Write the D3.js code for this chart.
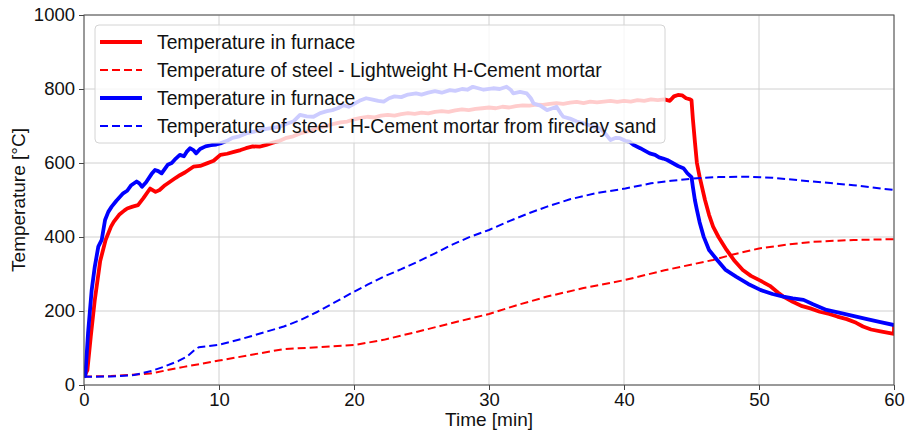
<!DOCTYPE html>
<html>
<head>
<meta charset="utf-8">
<script src="https://cdn.jsdelivr.net/npm/d3@7/dist/d3.min.js"></script>
<style>
  html, body { margin: 0; padding: 0; background: #fff; }
  svg { display: block; font-family: "Liberation Sans", Arial, sans-serif; }
</style>
</head>
<body>
<svg id="chart" width="912" height="437"></svg>
<script>
// Time axis ticks and temperature axis ticks
const xTicks = [0, 10, 20, 30, 40, 50, 60];
const yTicks = [0, 200, 400, 600, 800, 1000];

// Furnace temperature, lightweight H-Cement mortar test (time [min], temperature [°C])
const furnaceRedTime = [0, 0.25, 0.5, 0.8, 1.2, 1.6, 2.0, 2.2, 2.6, 3.0, 3.2, 3.6, 4.0, 4.4, 4.9, 5.3, 5.6, 6.0, 6.4, 6.8, 7.1, 7.5, 8.1, 8.6, 9.1, 9.6, 10.1, 10.6, 11.1, 11.6, 12.0, 12.5, 13.0, 13.5, 14, 14.5, 15, 15.5, 16, 16.5, 17, 17.5, 18, 18.5, 19, 19.5, 20, 20.5, 21, 21.5, 22, 22.5, 23, 23.5, 24, 24.5, 25, 25.5, 26, 26.5, 27, 27.5, 28, 28.5, 29, 29.5, 30, 30.5, 31, 31.5, 32, 32.5, 33, 33.5, 34, 34.5, 35, 35.5, 36, 36.5, 37, 37.5, 38, 38.5, 39, 39.5, 40, 40.5, 41, 41.5, 42, 42.5, 43, 43.4, 43.7, 44.0, 44.3, 44.6, 44.9, 45.0, 45.1, 45.26, 45.4, 45.6, 46.0, 46.3, 46.6, 47.0, 47.6, 48.2, 48.8, 49.4, 50.1, 50.8, 51.4, 51.8, 52.5, 53.2, 53.8, 54.5, 55.2, 55.8, 56.5, 57.2, 57.7, 58.3, 59.0, 59.7, 60.0, 60.0];
const furnaceRedTemp = [22, 40, 130, 230, 335, 392, 428, 441, 460, 472, 477, 482, 486, 505, 531, 522, 527, 540, 550, 560, 567, 575, 590, 592, 599, 606, 622, 625, 630, 635, 640, 645, 644, 649, 655, 660, 668, 672, 680, 685, 690, 697, 700, 706, 710, 712, 718, 722, 725, 723, 728, 730, 728, 732, 735, 733, 736, 734, 738, 740, 738, 742, 745, 743, 746, 748, 750, 748, 752, 750, 754, 756, 755, 758, 757, 760, 762, 760, 763, 765, 762, 766, 764, 766, 768, 765, 768, 766, 770, 768, 772, 770, 772, 768, 780, 784, 783, 775, 772, 770, 720, 654, 600, 563, 500, 460, 428, 400, 365, 335, 311, 295, 282, 268, 250, 239, 225, 213, 207, 198, 192, 185, 178, 168, 158, 150, 145, 140, 138, 163];

// Steel temperature, lightweight H-Cement mortar
const steelRedTime = [0, 2, 4.9, 7.4, 10, 12.3, 14.8, 17.3, 20, 22.2, 24.7, 27.2, 30, 32, 34.3, 37, 40.1, 43, 46.6, 48, 50, 52, 54, 57, 60];
const steelRedTemp = [23, 24, 31, 49, 66, 81, 97, 102, 108, 122, 144, 167, 192, 215, 239, 262, 284, 310, 338, 352, 369, 379, 387, 392, 394];

// Furnace temperature, H-Cement mortar from fireclay sand test
const furnaceBlueTime = [0, 0.1, 0.3, 0.57, 0.8, 1.06, 1.31, 1.56, 1.8, 2.05, 2.4, 2.9, 3.2, 3.5, 3.9, 4.1, 4.3, 4.6, 5.0, 5.26, 5.5, 5.75, 6.0, 6.2, 6.5, 6.8, 7.1, 7.4, 7.6, 7.85, 8.1, 8.3, 8.6, 9.0, 9.4, 9.8, 10.1, 10.6, 11.0, 11.5, 12.0, 12.5, 13, 13.5, 14, 14.5, 15, 15.5, 16, 16.5, 17, 17.5, 18, 18.4, 18.8, 19.2, 19.6, 20, 20.4, 20.9, 21.3, 21.8, 22.2, 22.6, 23, 23.5, 24, 24.6, 25, 25.5, 26, 26.5, 27.1, 27.5, 28, 28.4, 28.8, 29.2, 29.6, 30.3, 30.8, 31.3, 31.6, 31.8, 32.3, 32.8, 33.1, 33.3, 33.8, 34.3, 34.7, 35.0, 35.3, 35.5, 36.0, 36.5, 37.0, 37.6, 38.2, 38.6, 39.0, 39.4, 39.7, 40.1, 40.4, 40.7, 41.2, 41.6, 41.9, 42.3, 42.6, 42.9, 43.2, 43.6, 44.0, 44.4, 44.7, 45.0, 45.1, 45.25, 45.4, 45.6, 45.9, 46.3, 46.9, 47.5, 48.3, 49.2, 50.1, 51.0, 51.8, 52.5, 53.3, 54.0, 55.0, 56.0, 57.2, 58.0, 59.0, 60.0];
const furnaceBlueTemp = [22, 25, 140, 257, 320, 374, 392, 446, 468, 482, 498, 518, 525, 540, 550, 545, 536, 548, 570, 581, 578, 572, 585, 595, 600, 612, 622, 618, 630, 640, 635, 626, 638, 645, 648, 650, 653, 660, 668, 672, 680, 684, 688, 692, 695, 698, 706, 712, 730, 726, 725, 735, 740, 743, 748, 756, 752, 760, 768, 775, 772, 768, 766, 775, 780, 778, 785, 788, 785, 790, 794, 790, 797, 795, 800, 798, 806, 802, 798, 802, 800, 806, 798, 788, 792, 788, 775, 761, 755, 743, 748, 752, 735, 725, 720, 712, 707, 700, 694, 680, 662, 668, 667, 660, 658, 649, 640, 632, 626, 622, 615, 612, 608, 600, 592, 586, 572, 562, 536, 500, 473, 440, 401, 365, 338, 312, 293, 273, 257, 246, 239, 234, 230, 218, 203, 195, 185, 178, 170, 162];

// Steel temperature, H-Cement mortar from fireclay sand
const steelBlueTime = [0, 2, 3.7, 5, 5.9, 7.0, 7.65, 8.2, 8.5, 9.9, 11, 12.3, 13.5, 14.8, 16, 17.3, 18.6, 20, 21, 22.2, 23.5, 24.7, 26, 27.2, 28.5, 30, 31.5, 33, 34.3, 36, 38, 40.1, 42, 43.5, 45.1, 47, 49.1, 51, 54, 57, 60];
const steelBlueTemp = [22, 23, 27, 38, 49, 65, 77, 95, 102, 108, 118, 131, 144, 158, 175, 198, 224, 252, 271, 293, 313, 333, 356, 378, 399, 419, 443, 465, 482, 502, 519, 531, 545, 552, 558, 562, 563, 560, 550, 540, 527];

const legendLabels = [
  "Temperature in furnace",
  "Temperature of steel - Lightweight H-Cement mortar",
  "Temperature in furnace",
  "Temperature of steel - H-Cement mortar from fireclay sand"
];

const zip = (ts, vs) => ts.map((t, i) => [t, vs[i]]);
const seriesList = [
  { pts: zip(furnaceRedTime, furnaceRedTemp), color: "#ff0000", width: 3.8, dash: null },
  { pts: zip(steelRedTime, steelRedTemp), color: "#ff0000", width: 2, dash: "8,4" },
  { pts: zip(furnaceBlueTime, furnaceBlueTemp), color: "#0000ff", width: 3.8, dash: null },
  { pts: zip(steelBlueTime, steelBlueTemp), color: "#0000ff", width: 2, dash: "8,4" }
];

const svg = d3.select("#chart");
const margin = { left: 84, top: 15, right: 18, bottom: 52 };
const W = 912 - margin.left - margin.right;
const H = 437 - margin.top - margin.bottom;

const x = d3.scaleLinear().domain([0, 60]).range([0, W]);
const y = d3.scaleLinear().domain([0, 1000]).range([H, 0]);

const g = svg.append("g").attr("transform", `translate(${margin.left},${margin.top})`);

// grid
g.append("g").selectAll("line.vg").data(xTicks).join("line")
  .attr("x1", d => x(d)).attr("x2", d => x(d)).attr("y1", 0).attr("y2", H)
  .attr("stroke", "#d0d0d0").attr("stroke-width", 1);
g.append("g").selectAll("line.hg").data(yTicks).join("line")
  .attr("y1", d => y(d)).attr("y2", d => y(d)).attr("x1", 0).attr("x2", W)
  .attr("stroke", "#d0d0d0").attr("stroke-width", 1);

// series
svg.append("defs").append("clipPath").attr("id", "plotclip")
  .append("rect").attr("x", 0).attr("y", 0).attr("width", W).attr("height", H);
const lineGen = d3.line().x(d => x(d[0])).y(d => y(d[1]));
const lines = g.append("g").attr("clip-path", "url(#plotclip)");
seriesList.forEach(s => {
  lines.append("path")
    .datum(s.pts)
    .attr("d", lineGen)
    .attr("fill", "none")
    .attr("stroke", s.color)
    .attr("stroke-width", s.width)
    .attr("stroke-linejoin", "round")
    .attr("stroke-dasharray", s.dash);
});

// axes
const fontSize = "18.5px";
const xAxis = g.append("g").attr("transform", `translate(0,${H})`)
  .call(d3.axisBottom(x).tickValues(xTicks).tickSize(5).tickPadding(3).tickFormat(d3.format("d")));
const yAxis = g.append("g")
  .call(d3.axisLeft(y).tickValues(yTicks).tickSize(5).tickPadding(4).tickFormat(d3.format("d")));
[xAxis, yAxis].forEach(a => {
  a.select(".domain").remove();
  a.selectAll(".tick line").attr("stroke", "#444");
  a.selectAll(".tick text").attr("fill", "#111").style("font-size", fontSize)
    .style("font-family", "'Liberation Sans', Arial, sans-serif");
});

// frame
g.append("rect").attr("x", 0).attr("y", 0).attr("width", W).attr("height", H)
  .attr("fill", "none").attr("stroke", "#4d4d4d").attr("stroke-width", 1);

// axis titles
svg.append("text")
  .attr("x", margin.left + W / 2).attr("y", 426)
  .attr("text-anchor", "middle").attr("fill", "#111")
  .style("font-size", "19px").text("Time [min]");
svg.append("text")
  .attr("transform", `translate(25,${margin.top + H / 2}) rotate(-90)`)
  .attr("text-anchor", "middle").attr("fill", "#111")
  .style("font-size", "19px").text("Temperature [°C]");

// legend
const leg = g.append("g").attr("transform", "translate(11,10)");
leg.append("rect").attr("x", 0).attr("y", 0).attr("width", 570).attr("height", 118)
  .attr("rx", 4).attr("fill", "#fff").attr("fill-opacity", 0.8)
  .attr("stroke", "#d4d4d4").attr("stroke-width", 1);
legendLabels.forEach((lab, i) => {
  const s = seriesList[i];
  const yy = 17 + i * 28;
  leg.append("line").attr("x1", 5).attr("x2", 47).attr("y1", yy).attr("y2", yy)
    .attr("stroke", s.color).attr("stroke-width", s.width)
    .attr("stroke-dasharray", s.dash);
  leg.append("text").attr("x", 62).attr("y", yy + 7)
    .attr("fill", "#111").style("font-size", "19.3px").text(lab);
});
</script>
</body>
</html>
